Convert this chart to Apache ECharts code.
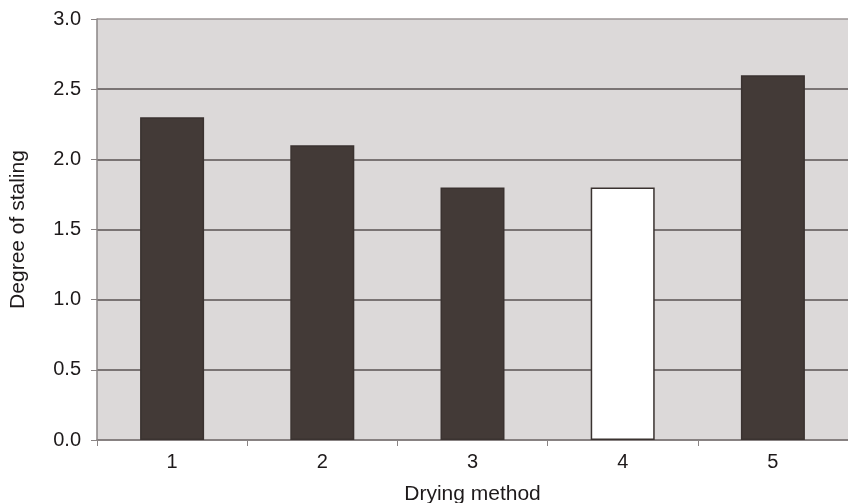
<!DOCTYPE html>
<html><head><meta charset="utf-8">
<script src="https://cdn.jsdelivr.net/npm/echarts@6/dist/echarts.min.js"></script>
<style>html,body{margin:0;padding:0;background:#fff}#c{width:848px;height:503px}</style>
</head><body><div id="c"></div>
<script>
const categories = ['1','2','3','4','5'];
const values = [2.3, 2.1, 1.8, 1.8, 2.6];
const barColors = ['#433a37','#433a37','#433a37','#ffffff','#433a37'];
const yTicks = [0, 0.5, 1.0, 1.5, 2.0, 2.5, 3.0];

const chart = echarts.init(document.getElementById('c'));
const font = 'Liberation Sans, Arial, sans-serif';
chart.setOption({
  animation: false,
  grid: {left: 97, right: 0, top: 19, bottom: 63, show: true, backgroundColor: '#dcd9d9', borderWidth: 0,
         containLabel: false, outerBoundsMode: 'none'},
  xAxis: {
    type: 'category', data: categories,
    name: 'Drying method', nameLocation: 'middle', nameGap: 44,
    nameTextStyle: {fontFamily: font, fontSize: 21, color: '#1e1a1b'},
    axisLine: {lineStyle: {color: '#8a8484', width: 1.5}},
    axisTick: {show: true, alignWithLabel: false, length: 6, lineStyle: {color: '#8a8484'}},
    axisLabel: {fontFamily: font, fontSize: 20, color: '#1e1a1b', margin: 12}
  },
  yAxis: {
    type: 'value', min: 0, max: 3, interval: 0.5,
    name: 'Degree of staling', nameLocation: 'middle', nameGap: 68,
    nameTextStyle: {fontFamily: font, fontSize: 21, color: '#1e1a1b'},
    axisLine: {show: true, lineStyle: {color: '#8a8484', width: 1.5}},
    axisTick: {show: true, length: 6, lineStyle: {color: '#8a8484'}},
    axisLabel: {fontFamily: font, fontSize: 20, color: '#1e1a1b', margin: 16,
      formatter: v => v.toFixed(1)},
    splitLine: {show: true, lineStyle: {width: 1.5, color: ['#5a5252','#5a5252','#5a5252','#5a5252','#5a5252','#5a5252','#9b9595']}}
  },
  series: [{
    type: 'bar', barWidth: 64,
    data: values.map((v, i) => ({value: v, itemStyle: {color: barColors[i], borderColor: '#3a3230', borderWidth: 1.5}}))
  }]
});
</script></body></html>
